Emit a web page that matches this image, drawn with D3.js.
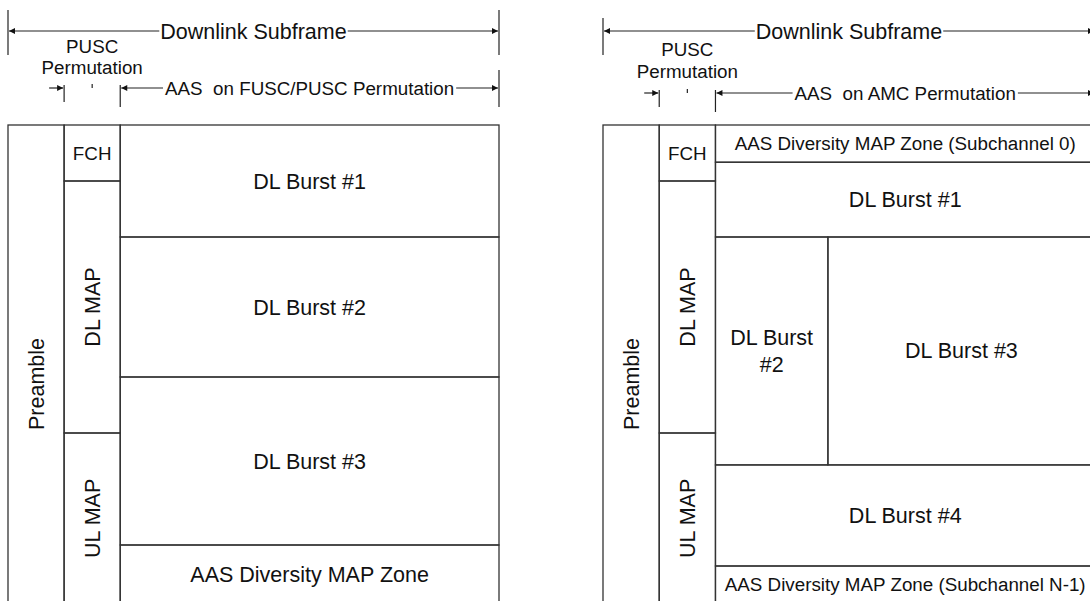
<!DOCTYPE html>
<html><head><meta charset="utf-8">
<script src="https://cdn.jsdelivr.net/npm/d3@7"></script>
<style>
html,body{margin:0;padding:0;background:#fff;}
svg{display:block;}
text{font-family:"Liberation Sans",Arial,Helvetica,sans-serif;fill:#111;white-space:pre;}
</style>
</head><body>
<svg id="c" width="1090" height="601"></svg>
<script>
// ---------------- DATA ----------------
const headerTitle = "Downlink Subframe";
const puscLabel = ["PUSC", "Permutation"];
const aasTitles = ["AAS  on FUSC/PUSC Permutation", "AAS  on AMC Permutation"];
const preambleLabel = "Preamble";
// time axis (symbol columns): Preamble | MAP | data bursts
const symbolEdges = [0, 1, 2, 8.75];
// MAP column cells, in subchannel units
const mapCells = [
  {label: "FCH",    s0: 0,  s1: 2,    vertical: false},
  {label: "DL MAP", s0: 2,  s1: 11,   vertical: true},
  {label: "UL MAP", s0: 11, s1: 17.1, vertical: true}
];
// data region cells: t = symbol range, s = subchannel range
const burstsFusc = [
  {lines: ["DL Burst #1"],            t0: 2, t1: 8.75, s0: 0,  s1: 4},
  {lines: ["DL Burst #2"],            t0: 2, t1: 8.75, s0: 4,  s1: 9},
  {lines: ["DL Burst #3"],            t0: 2, t1: 8.75, s0: 9,  s1: 15},
  {lines: ["AAS Diversity MAP Zone"], t0: 2, t1: 8.75, s0: 15, s1: 17.1}
];
const burstsAmc = [
  {lines: ["AAS Diversity MAP Zone (Subchannel 0)"],   t0: 2, t1: 8.75, s0: 0,     s1: 1.33, small: true},
  {lines: ["DL Burst #1"],                             t0: 2, t1: 8.75, s0: 1.33,  s1: 4},
  {lines: ["DL Burst", "#2"],                          t0: 2, t1: 4,    s0: 4,     s1: 12.14},
  {lines: ["DL Burst #3"],                             t0: 4, t1: 8.75, s0: 4,     s1: 12.14},
  {lines: ["DL Burst #4"],                             t0: 2, t1: 8.75, s0: 12.14, s1: 15.75},
  {lines: ["AAS Diversity MAP Zone (Subchannel N-1)"], t0: 2, t1: 8.75, s0: 15.75, s1: 17.1, small: true}
];
const subchannelDomain = [0, 17];
const preambleSpan = [0, 18.5];

// ---------------- LAYOUT ----------------
const BIG = 21.5, SMALL = 18.8;
const stroke = "#333", sw = 1.3;
const panels = [
  {xr: [8, 499],   bursts: burstsFusc, aas: aasTitles[0], tickTop: 10, rowY: 88,  puscY: [53, 74]},
  {xr: [603, 1095], bursts: burstsAmc, aas: aasTitles[1], tickTop: 18, rowY: 93,  puscY: [56, 78]}
];

const svg = d3.select("#c");
svg.append("rect").attr("width",1090).attr("height",601).attr("fill","#fff");
const defs = svg.append("defs");
defs.append("marker").attr("id","ah").attr("viewBox","0 0 10 10")
  .attr("refX",10).attr("refY",5).attr("markerWidth",7).attr("markerHeight",6)
  .attr("markerUnits","userSpaceOnUse").attr("orient","auto-start-reverse")
  .append("path").attr("d","M0,0L10,5L0,10Z").attr("fill","#111");

const y = d3.scaleLinear().domain(subchannelDomain).range([125, 601]);

function line(g, x1, y1, x2, y2, start, end) {
  const l = g.append("line").attr("x1",x1).attr("y1",y1).attr("x2",x2).attr("y2",y2)
    .attr("stroke","#222").attr("stroke-width",1.2);
  if (start) l.attr("marker-start","url(#ah)");
  if (end) l.attr("marker-end","url(#ah)");
  return l;
}

panels.forEach(p => {
  const x = d3.scaleLinear().domain([symbolEdges[0], symbolEdges[3]]).range(p.xr);
  const g = svg.append("g");
  const xL = x(symbolEdges[0]), xR = x(symbolEdges[3]);

  // ---- Header: Downlink Subframe ----
  const hy = 31;
  line(g, xL, p.tickTop, xL, 55);
  line(g, xR, p.tickTop, xR, 55);
  const ht = g.append("text").attr("x",(xL+xR)/2).attr("y",hy).attr("dy","0.35em")
    .attr("text-anchor","middle").attr("font-size",BIG).text(headerTitle);
  const hw = ht.node().getComputedTextLength();
  line(g, xL+1, hy, (xL+xR)/2 - hw/2 - 1, hy, true, false);
  line(g, (xL+xR)/2 + hw/2 + 1, hy, xR-1, hy, false, true);

  // ---- PUSC Permutation label ----
  const xm = x((symbolEdges[1]+symbolEdges[2])/2);
  puscLabel.forEach((t,i) => {
    g.append("text").attr("x",xm).attr("y",p.puscY[i]).attr("text-anchor","middle")
      .attr("font-size",SMALL).text(t);
  });

  // ---- Arrow row ----
  const ry = p.rowY;
  const x1 = x(symbolEdges[1]), x2 = x(symbolEdges[2]);
  line(g, x1-15, ry, x1-1, ry, false, true);
  line(g, x1, ry-3, x1, ry+14);
  line(g, xm, ry-4, xm, ry);
  line(g, x2, ry-3, x2, ry+19);
  line(g, xR, ry-18, xR, ry+19);
  const ac = (x2 + xR)/2;
  const at = g.append("text").attr("x",ac).attr("y",ry).attr("dy","0.35em")
    .attr("text-anchor","middle").attr("font-size",SMALL).attr("xml:space","preserve").text(p.aas);
  const aw = at.node().getComputedTextLength();
  line(g, x2+1, ry, ac - aw/2 - 2, ry, true, false);
  line(g, ac + aw/2 + 2, ry, xR-1, ry, false, true);

  // ---- Frame cells ----
  const cellG = g.append("g").attr("fill","none").attr("stroke",stroke).attr("stroke-width",sw);
  // Preamble
  const px0 = x(symbolEdges[0]), px1 = x(symbolEdges[1]);
  cellG.append("rect").attr("x",px0).attr("y",y(preambleSpan[0]))
    .attr("width",px1-px0).attr("height",y(preambleSpan[1])-y(preambleSpan[0]));
  const pcy = (y(preambleSpan[0]) + y(preambleSpan[1]))/2;
  g.append("text").attr("transform",`translate(${(px0+px1)/2},${pcy}) rotate(-90)`)
    .attr("dy","0.35em").attr("text-anchor","middle").attr("font-size",BIG).text(preambleLabel);

  // MAP column
  mapCells.forEach(c => {
    const y0 = y(c.s0), y1 = y(c.s1);
    cellG.append("rect").attr("x",x1).attr("y",y0).attr("width",x2-x1).attr("height",y1-y0);
    const cx = (x1+x2)/2, cy = (y0+y1)/2;
    if (c.vertical) {
      g.append("text").attr("transform",`translate(${cx},${cy}) rotate(-90)`)
        .attr("dy","0.35em").attr("text-anchor","middle").attr("font-size",BIG).text(c.label);
    } else {
      g.append("text").attr("x",cx).attr("y",cy).attr("dy","0.35em")
        .attr("text-anchor","middle").attr("font-size",SMALL).text(c.label);
    }
  });

  // Data bursts
  p.bursts.forEach(b => {
    const bx0 = x(b.t0), bx1 = x(b.t1), by0 = y(b.s0), by1 = y(b.s1);
    cellG.append("rect").attr("x",bx0).attr("y",by0).attr("width",bx1-bx0).attr("height",by1-by0);
    const cx = (bx0+bx1)/2, cy = (by0+by1)/2;
    const lh = 27;
    b.lines.forEach((t,i) => {
      g.append("text").attr("x",cx).attr("y",cy + (i - (b.lines.length-1)/2)*lh)
        .attr("dy","0.35em").attr("text-anchor","middle")
        .attr("font-size", b.small ? SMALL : BIG).text(t);
    });
  });
});
</script>
</body></html>
